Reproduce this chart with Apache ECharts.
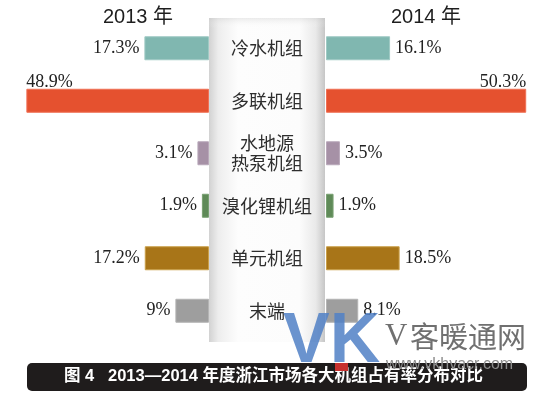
<!DOCTYPE html>
<html><head><meta charset="utf-8">
<script src="https://cdn.jsdelivr.net/npm/echarts@6/dist/echarts.min.js"></script>
<style>html,body{margin:0;padding:0;background:#fff}#c{width:550px;height:395px}</style>
</head><body><div id="c"></div>
<script>
var categories = ['冷水机组', '多联机组', '水地源\n热泵机组', '溴化锂机组', '单元机组', '末端'];
var values2013 = [17.3, 48.9, 3.1, 1.9, 17.2, 9];
var values2014 = [16.1, 50.3, 3.5, 1.9, 18.5, 8.1];
var yearLabels = ['2013 年', '2014 年'];
var colors = ['#80b7b0', '#e5512f', '#a691a6', '#5f8a58', '#a87518', '#9e9e9e'];
var borderColors = ['#9fcac4', '#f07055', '#b9a8ba', '#78a072', '#caa04a', '#b4b4b4'];
var caption = '图 4   2013—2014 年度浙江市场各大机组占有率分布对比';

var serif = '"Liberation Serif", "Times New Roman", serif';
var cjk = '"Liberation Sans", "Noto Sans CJK SC", sans-serif';

function makeData(vals, side) {
  return vals.map(function (v, i) {
    var d = { value: v, itemStyle: { color: colors[i], borderColor: borderColors[i], borderWidth: 1 } };
    if (i === 1) {
      d.label = side === 'left'
        ? { position: [0, 3], align: 'left', verticalAlign: 'bottom' }
        : { position: ['100%', 3], align: 'right', verticalAlign: 'bottom' };
    }
    return d;
  });
}

var chart = echarts.init(document.getElementById('c'));
chart.setOption({
  animation: false,
  title: [
    { text: yearLabels[0], left: 133, top: 2, textAlign: 'center', textStyle: { fontSize: 20, fontWeight: 'normal', color: '#1e1e1e', fontFamily: cjk } },
    { text: yearLabels[1], left: 421, top: 2, textAlign: 'center', textStyle: { fontSize: 20, fontWeight: 'normal', color: '#1e1e1e', fontFamily: cjk } }
  ],
  grid: [
    { left: 26, width: 183, top: 22, height: 315 },
    { left: 326, width: 201, top: 22, height: 315 }
  ],
  xAxis: [
    { gridIndex: 0, type: 'value', min: 0, max: 49, inverse: true, show: false },
    { gridIndex: 1, type: 'value', min: 0, max: 50.5, show: false }
  ],
  yAxis: [
    { gridIndex: 0, type: 'category', data: categories, inverse: true, show: false },
    { gridIndex: 1, type: 'category', data: categories, inverse: true, position: 'left',
      axisLine: { show: false }, axisTick: { show: false },
      axisLabel: { align: 'center', margin: 59, fontSize: 18, lineHeight: 20, color: '#2e2e2e', fontFamily: '"Noto Sans CJK SC", sans-serif' } }
  ],
  graphic: [
    { type: 'rect', z: 0, shape: { x: 209, y: 18, width: 116, height: 324 },
      style: { fill: new echarts.graphic.LinearGradient(0, 0, 1, 0, [
        { offset: 0, color: '#d2d2d2' }, { offset: 0.08, color: '#ededed' }, { offset: 0.25, color: '#fdfdfd' },
        { offset: 0.78, color: '#fcfcfc' }, { offset: 0.92, color: '#e9e9e9' }, { offset: 1, color: '#c6c6c6' }]) } },
    { type: 'rect', z: 0, shape: { x: 209, y: 18, width: 116, height: 10 },
      style: { fill: new echarts.graphic.LinearGradient(0, 0, 0, 1, [
        { offset: 0, color: 'rgba(200,200,200,0.35)' }, { offset: 1, color: 'rgba(255,255,255,0)' }]) } },
    { type: 'rect', z: 10, shape: { x: 27, y: 363, width: 500, height: 28, r: 5 }, style: { fill: '#1f1c1c' } },
    { type: 'text', z: 11, left: 64, top: 368, style: { text: caption, fill: '#fff', font: 'bold 16.5px "Liberation Sans", "Noto Sans CJK SC", sans-serif' } },
    { type: 'text', z: 20, left: 283, top: 308, style: { text: 'VK', fill: 'rgba(80,128,198,0.85)', font: 'bold 70px "Liberation Sans", Arial, sans-serif' } },
    { type: 'rect', z: 21, shape: { x: 335, y: 363, width: 13, height: 8 }, style: { fill: '#c7312f' } },
    { type: 'text', z: 20, left: 385, top: 321, style: { text: 'V', fill: '#707070', font: '31px "Liberation Serif", serif' } },
    { type: 'text', z: 20, left: 410, top: 322, style: { text: '客暖通网', fill: '#707070', font: '29px "Noto Sans CJK SC", sans-serif' } },
    { type: 'text', z: 20, left: 386, top: 357, style: { text: 'www.vkhvacr.com', fill: '#8c8c8c', font: '16px "Liberation Sans", Arial, sans-serif' } }
  ],
  series: [
    { type: 'bar', xAxisIndex: 0, yAxisIndex: 0, barWidth: 24, data: makeData(values2013, 'left'),
      label: { show: true, position: 'left', distance: 5, formatter: '{c}%', fontSize: 18, color: '#222', fontFamily: serif } },
    { type: 'bar', xAxisIndex: 1, yAxisIndex: 1, barWidth: 24, data: makeData(values2014, 'right'),
      label: { show: true, position: 'right', distance: 5, formatter: '{c}%', fontSize: 18, color: '#222', fontFamily: serif } }
  ]
});
</script></body></html>
